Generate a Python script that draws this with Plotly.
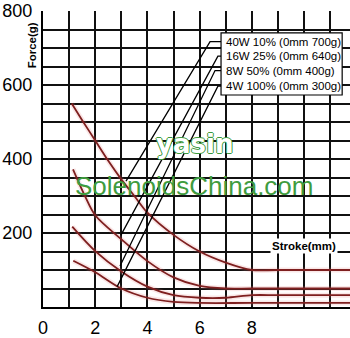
import plotly.graph_objects as go

# ---- data ----
stroke_40w = [1.1, 1.5, 2, 2.5, 3, 3.5, 4, 5, 6, 7, 8, 9, 11.8]
force_40w = [550, 505, 450, 395, 345, 300, 255, 195, 150, 120, 100, 100, 100]

stroke_16w = [1.15, 1.6, 2, 3, 4, 5, 6, 7, 8, 11.8]
force_16w = [372, 301, 248, 183, 124, 80, 57, 50, 50, 50]

stroke_8w = [1.12, 2, 3, 4, 5, 6, 7, 8, 9, 11.8]
force_8w = [217, 151, 96, 55, 32, 25, 25, 32, 32, 32]

stroke_4w = [1.16, 2, 3, 4, 5, 6, 8, 11.8]
force_4w = [125, 94, 50, 25, 14, 11, 11, 11]

legend_labels = ["40W 10% (0mm 700g)", "16W 25% (0mm 640g)",
                 "8W 50% (0mm 400g)", "4W 100% (0mm 300g)"]
leader_box_x = 6.82
leader_top_x = [6.40, 6.70, 6.59, 6.70]
leader_top_y = [717, 678, 639, 597]
leader_end_x = [3.18, 2.99, 2.95, 2.84]
leader_end_y = [340, 195, 111, 55]

x_grid_vals = [0, 1, 2, 3, 4, 5, 6, 7, 8, 9, 10, 11]
x_grid_text = ["0", "", "2", "", "4", "", "6", "", "8", "", "", ""]
y_grid_vals = [50, 100, 150, 200, 250, 300, 350, 400, 450, 500, 550, 600, 650, 700, 750]
y_label_vals = [200, 400, 600, 800]

curves = [(stroke_40w, force_40w), (stroke_16w, force_16w),
          (stroke_8w, force_8w), (stroke_4w, force_4w)]

fig = go.Figure()

for sx, fy in curves:
    fig.add_trace(go.Scatter(x=sx, y=fy, mode="lines",
                             line=dict(color="rgba(230,120,120,0.18)", width=5, shape="spline", smoothing=0.9),
                             hoverinfo="skip", showlegend=False))
for sx, fy in curves:
    fig.add_trace(go.Scatter(x=sx, y=fy, mode="lines",
                             line=dict(color="#7e1f1f", width=1.8, shape="spline", smoothing=0.9),
                             showlegend=False))

for i in range(4):
    fig.add_trace(go.Scatter(x=[leader_box_x, leader_top_x[i], leader_end_x[i]],
                             y=[leader_top_y[i], leader_top_y[i], leader_end_y[i]],
                             mode="lines", line=dict(color="black", width=1.3),
                             yaxis="y2", showlegend=False, hoverinfo="skip"))

font_main = "Liberation Sans, Arial, sans-serif"

fig.update_layout(
    width=350, height=338,
    margin=dict(l=43, r=0, t=11, b=24),
    paper_bgcolor="white", plot_bgcolor="white",
    font=dict(family=font_main, color="black"),
    xaxis=dict(range=[0, 11.76], tickmode="array", tickvals=x_grid_vals, ticktext=x_grid_text,
               showgrid=True, gridcolor="#111", gridwidth=2, zeroline=False,
               showline=True, linecolor="black", linewidth=2,
               ticks="outside", ticklen=3, tickcolor="rgba(0,0,0,0)",
               tickfont=dict(size=18, color="black")),
    yaxis=dict(range=[0, 800], tickmode="array", tickvals=y_grid_vals,
               showticklabels=False,
               showgrid=True, gridcolor="#111", gridwidth=2, zeroline=False,
               showline=True, linecolor="black", linewidth=2),
    yaxis2=dict(range=[0, 800], overlaying="y", side="left", anchor="x",
                tickmode="array", tickvals=y_label_vals,
                showgrid=False, zeroline=False, showline=False,
                ticks="outside", ticklen=6, tickcolor="rgba(0,0,0,0)",
                tickfont=dict(size=18, color="black")),
)

# legend box
fig.add_shape(type="rect", xref="x", yref="y", x0=leader_box_x, x1=11.46, y0=573, y1=741,
              line=dict(color="black", width=1.2), fillcolor="white", layer="above")
for i, lab in enumerate(legend_labels):
    fig.add_annotation(x=6.93, y=leader_top_y[i], xref="x", yref="y", text=lab,
                       showarrow=False, xanchor="left", yanchor="middle",
                       font=dict(size=11.5, color="black", family=font_main))

# axis titles
fig.add_annotation(x=-0.036, xref="paper", y=707, yref="y", text="<b>Force(g)</b>",
                   textangle=-90, showarrow=False, xanchor="center", yanchor="middle",
                   font=dict(size=11.5, color="black", family=font_main))
fig.add_annotation(x=11.3, y=166, xref="x", yref="y", text="<b>Stroke(mm)</b>",
                   showarrow=False, xanchor="right", yanchor="middle", bgcolor="white",
                   font=dict(size=11.5, color="black", family=font_main))

# watermark
fig.add_annotation(x=5.82, y=441, xref="x", yref="y", text="yasin",
                   showarrow=False, xanchor="center", yanchor="middle",
                   font=dict(size=26, color="white", family="DejaVu Sans, sans-serif",
                             weight="bold",
                             shadow="1px 0 0 #3d9a3d, -1px 0 0 #3d9a3d, 0 1px 0 #3d9a3d, 0 -1px 0 #3d9a3d"))
fig.add_annotation(x=5.78, y=327, xref="x", yref="y", text="SolenoidsChina.com",
                   showarrow=False, xanchor="center", yanchor="middle",
                   font=dict(size=26, color="#3f9c3f", family=font_main))

fig.write_html("out.html")
